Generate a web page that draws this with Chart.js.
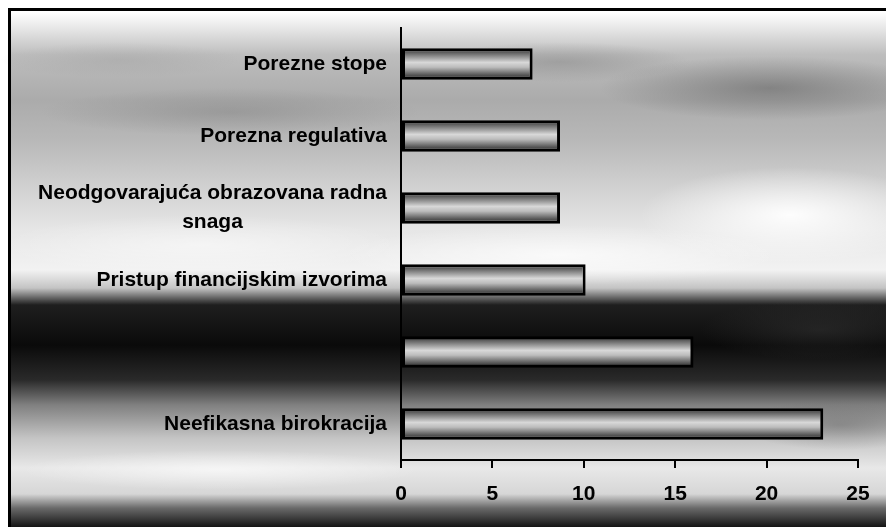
<!DOCTYPE html>
<html><head><meta charset="utf-8">
<script src="https://cdn.jsdelivr.net/npm/chart.js@4.4.0/dist/chart.umd.min.js"></script>
<style>html,body{margin:0;padding:0;background:#fff;} canvas{display:block}</style>
</head><body>
<canvas id="c" width="886" height="527"></canvas>
<script>
// ---- data ----
const categories = [
  ["Porezne stope"],
  ["Porezna regulativa"],
  ["Neodgovarajuća obrazovana radna", "snaga"],
  ["Pristup financijskim izvorima"],
  [""],
  ["Neefikasna birokracija"]
];
const values = [7.2, 8.7, 8.7, 10.1, 16.0, 23.1];
const xTicks = [0, 5, 10, 15, 20, 25];

const FONT = '"Liberation Sans", Arial, sans-serif';
const BAR_PCT = 0.44;

function blob(ctx, x, y, rx, ry, rgb, a) {
  ctx.save();
  ctx.translate(x, y);
  ctx.scale(rx, ry);
  const g = ctx.createRadialGradient(0, 0, 0, 0, 0, 1);
  g.addColorStop(0, 'rgba(' + rgb + ',' + a + ')');
  g.addColorStop(1, 'rgba(' + rgb + ',0)');
  ctx.fillStyle = g;
  ctx.fillRect(-1, -1, 2, 2);
  ctx.restore();
}

const bgPlugin = {
  id: 'bg',
  beforeDraw(chart) {
    const { ctx, width, height } = chart;
    ctx.save();
    ctx.fillStyle = '#fff';
    ctx.fillRect(0, 0, width, height);
    const g = ctx.createLinearGradient(0, 0, 0, height);
    const s = [
      [0, '#ffffff'], [12, '#ffffff'], [30, '#e4e4e4'], [55, '#bdbdbd'],
      [100, '#ababab'], [140, '#b8b8b8'], [180, '#cdcdcd'], [230, '#e6e6e6'],
      [270, '#f2f2f2'], [288, '#c4c4c4'], [305, '#1e1e1e'], [345, '#0a0a0a'],
      [380, '#2a2a2a'], [405, '#808080'], [438, '#c4c4c4'], [468, '#e8e8e8'],
      [494, '#d6d6d6'], [508, '#6a6a6a'], [527, '#141414']
    ];
    s.forEach(([y, c]) => g.addColorStop(y / height, c));
    ctx.fillStyle = g;
    ctx.fillRect(10, 10, width - 10, height - 10);
    // cloud-like streaks
    blob(ctx, 770, 88, 170, 32, '95,95,95', 0.55);
    blob(ctx, 560, 62, 130, 20, '110,110,110', 0.35);
    blob(ctx, 230, 112, 190, 24, '115,115,115', 0.35);
    blob(ctx, 120, 60, 120, 18, '150,150,150', 0.3);
    blob(ctx, 790, 215, 150, 48, '255,255,255', 0.95);
    blob(ctx, 560, 255, 220, 30, '255,255,255', 0.7);
    blob(ctx, 200, 245, 200, 30, '255,255,255', 0.5);
    blob(ctx, 820, 330, 120, 30, '70,70,70', 0.35);
    blob(ctx, 220, 470, 200, 20, '255,255,255', 0.6);
    blob(ctx, 840, 425, 100, 25, '90,90,90', 0.4);
    // frame
    ctx.fillStyle = '#000';
    ctx.fillRect(9, 8, width - 9, 3);
    ctx.fillRect(8, 8, 3, height - 8);
    ctx.restore();
  }
};

function barGradient(c) {
  const chart = c.chart;
  const ys = chart.scales && chart.scales.y;
  if (!ys || !chart.chartArea || c.dataIndex === undefined) return '#aaaaaa';
  const y = ys.getPixelForValue(c.dataIndex);
  const step = Math.abs(ys.getPixelForValue(1) - ys.getPixelForValue(0)) || 72;
  const h = step * BAR_PCT;
  const top = y - h / 2, bot = y + h / 2;
  const g = chart.ctx.createLinearGradient(0, top, 0, bot);
  g.addColorStop(0, '#2a2a2a');
  g.addColorStop(0.25, '#8a8a8a');
  g.addColorStop(0.45, '#d8d8d8');
  g.addColorStop(0.6, '#bcbcbc');
  g.addColorStop(0.85, '#555555');
  g.addColorStop(1, '#222222');
  return g;
}

const labelPlugin = {
  id: 'catLabels',
  afterDraw(chart) {
    const ctx = chart.ctx;
    const ys = chart.scales.y;
    const right = chart.chartArea.left - 14;
    ctx.save();
    ctx.font = 'bold 21px ' + FONT;
    ctx.fillStyle = '#000';
    ctx.textBaseline = 'middle';
    chart.data.labels.forEach((lines, i) => {
      const y = ys.getPixelForValue(i);
      if (lines.length === 1) {
        ctx.textAlign = 'right';
        ctx.fillText(lines[0], right, y);
      } else {
        const w = Math.max(...lines.map(l => ctx.measureText(l).width));
        const cx = right - w / 2;
        ctx.textAlign = 'center';
        const lh = 29;
        lines.forEach((l, k) => {
          ctx.fillText(l, cx, y + (k - (lines.length - 1) / 2) * lh);
        });
      }
    });
    ctx.restore();
  }
};

new Chart(document.getElementById('c'), {
  type: 'bar',
  data: {
    labels: categories,
    datasets: [{
      data: values,
      backgroundColor: barGradient,
      borderColor: '#000',
      borderWidth: 3,
      borderSkipped: false,
      barPercentage: BAR_PCT,
      categoryPercentage: 1
    }]
  },
  options: {
    indexAxis: 'y',
    responsive: false,
    devicePixelRatio: 1,
    animation: false,
    layout: { padding: { top: 28, right: 28, bottom: 0, left: 0 } },
    plugins: { legend: { display: false }, tooltip: { enabled: false } },
    scales: {
      x: {
        type: 'linear',
        min: xTicks[0],
        max: xTicks[xTicks.length - 1],
        afterBuildTicks(scale) { scale.ticks = xTicks.map(v => ({ value: v })); },
        afterFit(scale) { scale.height = 67; },
        ticks: {
          color: '#000',
          font: { family: FONT, size: 21, weight: 'bold' },
          padding: 14,
          maxRotation: 0
        },
        grid: { drawOnChartArea: false, drawTicks: true, tickLength: 8, color: '#000', lineWidth: 2 },
        border: { display: true, color: '#000', width: 2 }
      },
      y: {
        afterFit(scale) { scale.width = 401; },
        ticks: { display: false },
        grid: { display: false },
        border: { display: true, color: '#000', width: 2 }
      }
    }
  },
  plugins: [bgPlugin, labelPlugin]
});
</script>
</body></html>
